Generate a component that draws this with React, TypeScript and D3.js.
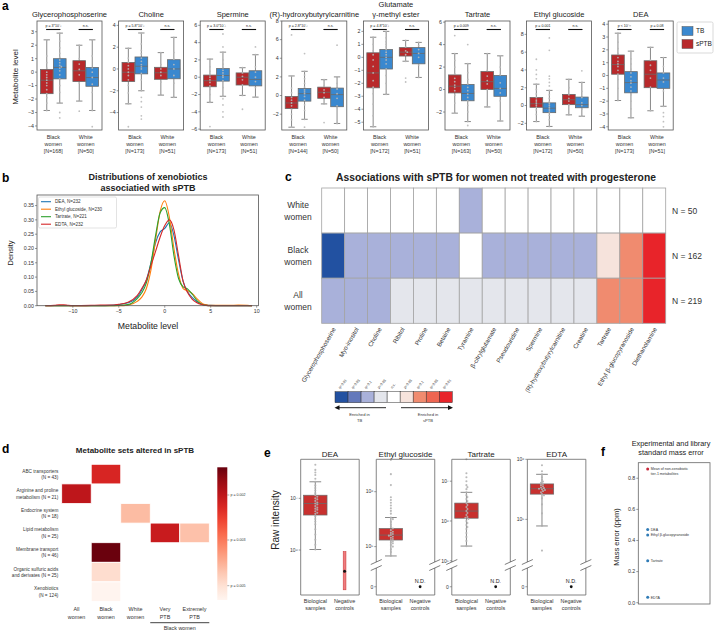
import React from 'react';
import * as d3 from 'd3';

const FONT = 'Liberation Sans, Arial, Helvetica, sans-serif';
const RED = '#b8292b';
const BLUE = '#3a88cf';

// ---------- Panel a data ----------
const aTitles = [['Glycerophosphoserine'], ['Choline'], ['Spermine'], ['(R)-hydroxybutyrylcarnitine'], ['Glutamate', 'γ-methyl ester'], ['Tartrate'], ['Ethyl glucoside'], ['DEA']];
const aDomains = [[-4.3, 3.8], [-5.6, 4.4], [-6.1, 6.5], [-3.7, 8.0], [-5.6, 2.8], [-3.6, 6.1], [-2.75, 9.5], [-4.25, 4.25]];
const aTicks = [[-4, -3, -2, -1, 0, 1, 2, 3], [-4, -2, 0, 2, 4], [-6, -4, -2, 0, 2, 4, 6], [-2, 0, 2, 4, 6, 8], [-5, -4, -3, -2, -1, 0, 1, 2], [-2, 0, 2, 4, 6], [-2, 0, 2, 4, 6, 8], [-4, -3, -2, -1, 0, 1, 2, 3, 4]];
const aBlackN = [168, 173, 173, 144, 172, 163, 172, 173];
const aWhiteN = [50, 51, 51, 50, 51, 50, 50, 51];
const aBlackP = ['p = 3*10⁻³', 'p = 5.8*10⁻³', 'p = 3.0*10⁻³', 'p = 2.8*10⁻³', 'p = 4.8*10⁻³', 'p = 0.009', 'p = 0.001', 'p < 10⁻¹¹'];
const aWhiteP = ['n.s.', 'n.s.', 'n.s.', 'n.s.', 'n.s.', 'n.s.', 'n.s.', 'p = 0.08'];
// [whisker low, q1, median, q3, whisker high] for Black sPTB, Black TB, White sPTB, White TB
const aBoxes = [
  [[-2.85, -1.6, -0.6, 0.2, 2.4], [-2.3, -0.5, 0.35, 1.0, 2.9], [-2.15, -0.7, 0.1, 0.85, 2.0], [-2.85, -1.05, -0.4, 0.35, 2.4]],
  [[-3.2, -1.15, -0.3, 0.6, 1.9], [-2.0, -0.45, 0.25, 1.1, 3.3], [-2.4, -0.95, -0.35, 0.15, 1.5], [-2.6, -0.9, 0, 0.85, 2.9]],
  [[-2.9, -1.1, -0.4, 0.25, 2.1], [-2.2, -0.45, 0.2, 1.0, 2.9], [-2.1, -0.9, 0, 0.5, 1.1], [-2.3, -1.0, -0.25, 0.75, 2.6]],
  [[-3.4, -1.4, -0.8, -0.1, 2.1], [-2.55, -0.6, 0.2, 0.75, 2.6], [-0.9, -0.3, 0.35, 0.9, 1.7], [-3.0, -1.2, 0.1, 0.8, 2.0]],
  [[-5.35, -2.35, -1.2, 0.35, 1.55], [-2.85, -0.9, 0, 0.6, 2.0], [-0.3, 0.1, 0.4, 0.75, 1.3], [-1.55, -0.5, 0.3, 0.75, 1.15]],
  [[-2.1, -0.3, 0.3, 1.3, 3.2], [-2.85, -1.0, -0.35, 0.45, 2.3], [-1.55, 0, 0.7, 1.6, 3.2], [-2.8, -0.6, 0.1, 1.25, 3.0]],
  [[-1.8, -0.2, 0.2, 0.9, 2.4], [-2.35, -0.8, -0.3, 0.3, 1.7], [-1.05, 0.1, 0.65, 1.25, 2.95], [-1.2, -0.25, 0.1, 0.95, 2.6]],
  [[-1.95, 0.1, 0.85, 1.6, 3.3], [-3.3, -1.35, -0.55, 0.3, 1.9], [-2.75, -0.95, 0.1, 1.15, 2.2], [-2.4, -1.0, -0.35, 0.2, 1.4]],
];
const aPoints = [
  [[-2.85, -2.3, -1.9, -1.6, -1.3, -1.0, -0.8, -0.6, -0.4, -0.2, 0, 0.3, 0.7, 1.2, 2.4],
   [-3.4, -3.0, -2.3, -1.5, -1.0, -0.5, -0.2, 0.1, 0.3, 0.4, 0.5, 0.7, 0.9, 1.1, 1.4, 1.8, 2.3, 2.9],
   [-2.9, -2.15, -0.8, -0.2, 0.2, 0.6, 1.0, 2.0],
   [-4.05, -2.85, -1.5, -0.9, -0.4, 0, 0.3, 1.2, 2.4]],
  [[-5.3, -3.2, -2.2, -1.5, -1.0, -0.6, -0.3, 0, 0.3, 0.6, 1.0, 1.9],
   [-4.6, -4.3, -3.5, -3.0, -2.6, -2.0, -1.0, -0.4, 0, 0.2, 0.4, 0.7, 1.0, 1.4, 1.7, 2.3, 3.3],
   [-2.4, -1.2, -0.6, -0.3, 0, 0.4, 1.5],
   [-2.6, -1.3, -0.6, 0, 0.4, 0.9, 1.5, 2.9]],
  [[-5.7, -2.9, -2.0, -1.4, -1.0, -0.6, -0.3, 0, 0.3, 0.7, 1.2, 2.1],
   [-4.6, -4.0, -3.2, -2.5, -2.2, -1.2, -0.4, 0, 0.2, 0.5, 0.8, 1.1, 1.5, 2.0, 2.9, 3.5, 5.0],
   [-3.7, -2.1, -0.9, -0.3, 0.1, 0.5, 1.1],
   [-2.3, -1.2, -0.5, 0, 0.6, 1.2, 2.6, 3.5]],
  [[-3.4, -2.6, -2.0, -1.5, -1.1, -0.8, -0.5, -0.2, 0.3, 0.8, 2.1, 6.5],
   [-3.4, -2.55, -1.6, -1.0, -0.5, -0.1, 0.2, 0.4, 0.6, 0.9, 1.3, 1.8, 2.2, 2.6, 4.5],
   [-2.9, -0.9, -0.2, 0.3, 0.6, 1.0, 1.7],
   [-3.0, -1.3, -1.1, -0.3, 0.2, 0.7, 1.3, 2.0, 5.4]],
  [[-5.35, -4.5, -3.6, -2.8, -2.3, -1.8, -1.2, -0.7, -0.2, 0.2, 0.5, 1.0, 1.55],
   [-2.85, -2.0, -1.4, -0.9, -0.5, -0.2, 0, 0.2, 0.4, 0.6, 0.8, 1.0, 1.2, 1.5, 2.0],
   [-1.9, -1.6, -0.3, 0.2, 0.4, 0.5, 0.8, 1.3],
   [-1.55, -0.6, 0, 0.3, 0.6, 0.9, 1.15]],
  [[-2.1, -1.2, -0.5, -0.1, 0.2, 0.4, 0.7, 1.0, 1.4, 2.0, 2.6, 3.2, 4.8],
   [-3.2, -2.85, -2.0, -1.4, -1.0, -0.7, -0.4, -0.1, 0.2, 0.5, 0.9, 1.5, 2.3, 4.0],
   [-1.55, 0, 0.5, 0.8, 1.2, 1.7, 3.2],
   [-2.8, -1.0, -0.3, 0.1, 0.6, 1.3, 2.0, 3.0]],
  [[-1.8, -1.0, -0.5, -0.2, 0, 0.2, 0.4, 0.6, 0.9, 1.3, 1.8, 2.4, 3.0, 3.5, 4.0, 5.2],
   [-2.35, -1.6, -1.1, -0.8, -0.6, -0.4, -0.2, 0, 0.2, 0.4, 0.8, 1.2, 1.7, 2.2, 2.6, 3.0, 3.3, 6.2, 7.6],
   [-1.05, 0.1, 0.5, 0.8, 1.2, 2.0, 2.95],
   [-1.2, -0.4, 0, 0.3, 0.9, 1.6, 2.6, 3.9]],
  [[-1.95, -1.0, -0.3, 0.1, 0.4, 0.7, 0.9, 1.1, 1.4, 1.7, 2.1, 2.6, 3.3],
   [-3.3, -2.6, -2.0, -1.5, -1.2, -0.9, -0.6, -0.4, -0.1, 0.2, 0.5, 0.9, 1.3, 1.9],
   [-2.75, -0.9, -0.2, 0.4, 0.8, 1.2, 2.2],
   [-4.0, -3.6, -3.2, -2.9, -2.4, -1.2, -0.5, -0.2, 0.2, 0.7, 1.4]],
];

// ---------- Panel b data ----------
const bX = [-13, -12, -11.5, -11, -10.5, -10, -8, -7, -6, -5, -4, -3, -2.5, -2, -1.5, -1, -0.5, 0, 0.5, 1, 1.5, 2, 2.5, 3, 3.5, 4, 4.5, 5, 6, 7, 8, 9, 9.5];
const bDEA = [0, 0, 0, 0, 0, 0, 0, 0, 0.001, 0.004, 0.01, 0.03, 0.055, 0.09, 0.15, 0.22, 0.258, 0.27, 0.29, 0.245, 0.16, 0.085, 0.048, 0.028, 0.014, 0.006, 0.002, 0.001, 0, 0, 0, 0, 0];
const bEthyl = [0, 0, 0, 0, 0, 0, 0, 0, 0, 0, 0.002, 0.015, 0.03, 0.06, 0.125, 0.23, 0.33, 0.367, 0.31, 0.2, 0.11, 0.06, 0.052, 0.042, 0.025, 0.01, 0.003, 0.001, 0.001, 0.001, 0.002, 0.001, 0];
const bTartrate = [0, 0, 0, 0, 0, 0, 0, 0, 0, 0.001, 0.004, 0.025, 0.045, 0.08, 0.15, 0.245, 0.325, 0.343, 0.285, 0.175, 0.095, 0.066, 0.058, 0.04, 0.018, 0.005, 0.001, 0, 0, 0, 0, 0, 0];
const bEDTA = [0, 0.001, 0.003, 0.003, 0.001, 0, 0.001, 0.002, 0.002, 0.005, 0.012, 0.035, 0.06, 0.09, 0.14, 0.19, 0.24, 0.28, 0.3, 0.265, 0.175, 0.085, 0.045, 0.022, 0.01, 0.004, 0.001, 0, 0, 0, 0, 0, 0];
const bSeries = [bDEA, bEthyl, bTartrate, bEDTA];
const bNames = ['DEA, N=232', 'Ethyl glucoside, N=230', 'Tartrate, N=221', 'EDTA, N=232'];
const bColors = ['#1f77b4', '#ff7f0e', '#2ca02c', '#d62728'];
const bXTicks = [-10, -5, 0, 5, 10];
const bYTicks = [0, 0.05, 0.1, 0.15, 0.2, 0.25, 0.3, 0.35];

// ---------- Panel c data ----------
const cCols = ['Glycerophosphoserine', 'Myo-inositol', 'Choline', 'Ribitol', 'Proline', 'Betaine', 'Tyramine', 'β-citrylglutamate', 'Pseudouridine', 'Spermine', '(R)-hydroxybutyrylcarnitine', 'Creatine', 'Tartrate', 'Ethyl β-glucopyranoside', 'Diethanolamine'];
const cRows = [['White', 'women'], ['Black', 'women'], ['All', 'women']];
const cN = [50, 162, 219];
const cLevels = ['q<0.01', 'q<0.05', 'q<0.1', 'p<0.05', 'n.s.', 'p<0.05', 'q<0.1', 'q<0.05', 'q<0.01'];
const cColors = ['#2251a1', '#6479bb', '#a9b1da', '#e4e6ec', '#ffffff', '#f6e3dc', '#f08b6f', '#ee6551', '#e8242a'];
const cCells = [
  [4, 4, 4, 4, 4, 4, 2, 4, 4, 4, 4, 4, 4, 4, 4],
  [0, 2, 2, 2, 2, 2, 4, 2, 2, 2, 2, 2, 5, 6, 8],
  [2, 2, 2, 3, 3, 3, 3, 3, 3, 3, 3, 3, 6, 6, 8],
];

// ---------- Panel d data ----------
const dRows = [['ABC transporters', '(N = 43)'], ['Arginine and proline', 'metabolism (N = 21)'], ['Endocrine system', '(N = 18)'], ['Lipid metabolism', '(N = 25)'], ['Membrane transport', '(N = 46)'], ['Organic sulfuric acids', 'and derivates (N = 25)'], ['Xenobiotics', '(N = 124)']];
const dCols = [['All', 'women'], ['Black', 'women'], ['White', 'women'], ['Very', 'PTB'], ['Extremely', 'PTB']];
const dP = [
  [null, 0.00225, null, null, null],
  [0.002, null, null, null, null],
  [null, null, 0.0042, null, null],
  [null, null, null, 0.0021, 0.0043],
  [null, 0.0014, null, null, null],
  [null, 0.0049, null, null, null],
  [null, 0.0056, null, null, null],
];
const dBarTicks = [0.002, 0.003, 0.005];

// ---------- Panel e data (log10 intensity) ----------
const eTitles = ['DEA', 'Ethyl glucoside', 'Tartrate', 'EDTA'];
const eLogDomains = [[5.13, 7.755], [4.72, 6.59], [4.97, 7.55], [4.29, 6.0]];
const eTicks = [[6, 7], [5, 6], [5, 6, 7], [5, 6]];
const eBoxes = [[6.01, 6.677, 6.9, 7.06, 7.32], [4.83, 5.12, 5.21, 5.33, 5.53], [5.37, 6.07, 6.25, 6.45, 6.72], [4.89, 5.42, 5.51, 5.59, 5.75]];
const eNegative: (number[] | null)[] = [[5.23, 5.59, 5.97], null, null, null];
const ePoints = [
  [6.01, 6.1, 6.2, 6.3, 6.4, 6.5, 6.55, 6.6, 6.65, 6.7, 6.72, 6.75, 6.78, 6.8, 6.82, 6.85, 6.88, 6.9, 6.92, 6.95, 6.98, 7.0, 7.03, 7.06, 7.1, 7.15, 7.2, 7.25, 7.32, 7.38, 7.45, 7.5, 7.55, 7.65],
  [4.83, 4.9, 4.95, 5.0, 5.03, 5.06, 5.08, 5.1, 5.12, 5.14, 5.16, 5.18, 5.2, 5.21, 5.23, 5.25, 5.27, 5.3, 5.33, 5.36, 5.4, 5.45, 5.5, 5.53, 5.6, 5.65, 5.7, 5.75, 5.8, 5.85, 5.9, 6.12, 6.32, 6.58],
  [5.37, 5.5, 5.6, 5.7, 5.8, 5.85, 5.9, 5.95, 6.0, 6.05, 6.08, 6.1, 6.15, 6.2, 6.25, 6.3, 6.35, 6.4, 6.45, 6.5, 6.55, 6.6, 6.65, 6.72, 6.8, 6.85, 6.9, 7.0, 7.1, 7.2, 7.55],
  [4.48, 4.89, 5.1, 5.25, 5.35, 5.4, 5.42, 5.45, 5.47, 5.49, 5.5, 5.51, 5.52, 5.53, 5.55, 5.57, 5.59, 5.61, 5.63, 5.66, 5.7, 5.75, 5.8, 5.9],
];

// ---------- Panel f data ----------
const fLabels = [['Mean of non-xenobiotic', 'tier-1 metabolites'], ['DEA'], ['Ethyl β-glucopyranoside'], ['Tartrate'], ['EDTA']];
const fValues = [0.86, 0.47, 0.435, 0.27, 0.035];
const fColors = ['#c8283a', '#2f7bb6', '#2f7bb6', '#2f7bb6', '#2f7bb6'];
const fTicks = [0, 0.2, 0.4, 0.6, 0.8];

// ---------- helpers ----------
const minus = (t: number) => (t < 0 ? '−' + Math.abs(t) : String(t));
const SUP = '⁰¹²³⁴⁵⁶⁷⁸⁹';
const sup = (n: number) => String(n).split('').map(c => SUP[+c]).join('');

function swarm(vals: number[], y: (v: number) => number, r: number, maxOff: number) {
  const sorted = vals.map(v => ({ py: y(v) })).sort((a, b) => a.py - b.py);
  const placed: { py: number; dx: number }[] = [];
  for (const p of sorted) {
    let best = 0;
    for (let k = 0; k < 60; k++) {
      const off = (k % 2 === 1 ? 1 : -1) * Math.ceil(k / 2) * r * 0.9;
      if (Math.abs(off) > maxOff) { best = (k % 2 === 1 ? 1 : -1) * maxOff * 0.9; break; }
      const ok = placed.every(q => (q.dx - off) ** 2 + (q.py - p.py) ** 2 >= (2 * r) ** 2 * 0.85);
      if (ok) { best = off; break; }
    }
    placed.push({ py: p.py, dx: best });
  }
  return placed;
}

// ---------- Panel a ----------
const A_LEFT = 37, A_STEP = 81.6, A_W = 65, A_TOP = 21, A_BOTTOM = 130;
const GRAY_EDGE = '#6a6a6a';

function PanelA({ i }: { i: number }) {
  const left = A_LEFT + i * A_STEP;
  const x = d3.scaleLinear().domain([-0.5, 1.5]).range([left, left + A_W]);
  const y = d3.scaleLinear().domain(aDomains[i]).range([A_BOTTOM, A_TOP]);
  const offs = [-0.2, 0.2, 0.8, 1.2];
  const cols = [RED, BLUE, RED, BLUE];
  const hw = x(0.195) - x(0);
  const title = aTitles[i];
  return (
    <g>
      {title.map((t, k) => (
        <text key={k} x={left + A_W / 2} y={16.6 - (title.length - 1 - k) * 9.6} textAnchor="middle" fontSize={7.5} fill="#222">{t}</text>
      ))}
      {aTicks[i].map(t => (
        <g key={t}>
          <line x1={left - 2} x2={left} y1={y(t)} y2={y(t)} stroke="#555" strokeWidth={0.6} />
          <text x={left - 3} y={y(t)} dy="0.35em" textAnchor="end" fontSize={5.3} fill="#333">{minus(t)}</text>
        </g>
      ))}
      {aBoxes[i].map((b, k) => {
        const cx = x(offs[k]);
        return (
          <g key={k}>
            <line x1={cx} x2={cx} y1={y(b[0])} y2={y(b[1])} stroke={GRAY_EDGE} strokeWidth={0.8} />
            <line x1={cx} x2={cx} y1={y(b[3])} y2={y(b[4])} stroke={GRAY_EDGE} strokeWidth={0.8} />
            <line x1={cx - hw * 0.5} x2={cx + hw * 0.5} y1={y(b[0])} y2={y(b[0])} stroke={GRAY_EDGE} strokeWidth={0.8} />
            <line x1={cx - hw * 0.5} x2={cx + hw * 0.5} y1={y(b[4])} y2={y(b[4])} stroke={GRAY_EDGE} strokeWidth={0.8} />
            <rect x={cx - hw} y={y(b[3])} width={2 * hw} height={y(b[1]) - y(b[3])} fill={cols[k]} stroke={GRAY_EDGE} strokeWidth={0.8} />
            <line x1={cx - hw} x2={cx + hw} y1={y(b[2])} y2={y(b[2])} stroke={GRAY_EDGE} strokeWidth={0.8} />
          </g>
        );
      })}
      {aPoints[i].map((pts, k) => {
        const cx = x(offs[k]);
        return swarm(pts, y, 0.9, hw).map((p, j) => (
          <circle key={k + '-' + j} cx={cx + p.dx} cy={p.py} r={0.9} fill="#b9b9b9" fillOpacity={0.9} />
        ));
      })}
      {[0, 1].map(g => (
        <g key={g}>
          <line x1={x(g - 0.22)} x2={x(g + 0.22)} y1={29.5} y2={29.5} stroke="#111" strokeWidth={1.1} />
          <text x={x(g)} y={27.3} textAnchor="middle" fontSize={3.6} fill="#222">{g === 0 ? aBlackP[i] : aWhiteP[i]}</text>
        </g>
      ))}
      <rect x={left} y={A_TOP} width={A_W} height={A_BOTTOM - A_TOP} fill="none" stroke="#555" strokeWidth={0.8} />
      {[0, 1].map(g => {
        const lines = [g === 0 ? 'Black' : 'White', 'women', `[N=${g === 0 ? aBlackN[i] : aWhiteN[i]}]`];
        return lines.map((l, k) => (
          <text key={g + '-' + k} x={x(g)} y={139 + k * 7} textAnchor="middle" fontSize={5.4} fill="#333">{l}</text>
        ));
      })}
    </g>
  );
}

function LegendA() {
  return (
    <g>
      <rect x={677} y={22} width={36} height={31} rx={1.5} fill="#fff" stroke="#cfcfcf" strokeWidth={0.8} />
      <rect x={682} y={26.5} width={11} height={9} fill={BLUE} stroke="#555" strokeWidth={0.5} />
      <text x={696} y={31} dy="0.35em" fontSize={6.5} fill="#222">TB</text>
      <rect x={682} y={39.5} width={11} height={9} fill={RED} stroke="#555" strokeWidth={0.5} />
      <text x={696} y={44} dy="0.35em" fontSize={6.5} fill="#222">sPTB</text>
    </g>
  );
}

// ---------- Panel b ----------
function PanelB() {
  const L = 37, R = 258.5, T = 195, B = 305.7;
  const x = d3.scaleLinear().domain([-13.9, 10.2]).range([L, R]);
  const y = d3.scaleLinear().domain([0, 0.387]).range([B, T]);
  const line = d3.line<number>().x((_, k) => x(bX[k])).y(d => y(d)).curve(d3.curveMonotoneX);
  return (
    <g>
      <text x={2} y={182} fontSize={12} fontWeight="bold">b</text>
      <text x={148} y={179.5} textAnchor="middle" fontSize={9} fontWeight="bold" fill="#222">Distributions of xenobiotics</text>
      <text x={148} y={191.3} textAnchor="middle" fontSize={9} fontWeight="bold" fill="#222">associatied with sPTB</text>
      {bSeries.map((s, k) => (
        <path key={k} d={line(s) || ''} fill="none" stroke={bColors[k]} strokeWidth={1.1} />
      ))}
      <rect x={L} y={T} width={R - L} height={B - T} fill="none" stroke="#555" strokeWidth={0.8} />
      {bXTicks.map(t => (
        <g key={t}>
          <line x1={x(t)} x2={x(t)} y1={B} y2={B + 2} stroke="#555" strokeWidth={0.6} />
          <text x={x(t)} y={B + 7.5} textAnchor="middle" fontSize={5.3} fill="#333">{minus(t)}</text>
        </g>
      ))}
      {bYTicks.map(t => (
        <g key={t}>
          <line x1={L - 2} x2={L} y1={y(t)} y2={y(t)} stroke="#555" strokeWidth={0.6} />
          <text x={L - 3} y={y(t)} dy="0.35em" textAnchor="end" fontSize={5.3} fill="#333">{t.toFixed(2)}</text>
        </g>
      ))}
      <text x={148} y={329} textAnchor="middle" fontSize={8.7} fill="#222">Metabolite level</text>
      <text transform="translate(10,253) rotate(-90)" textAnchor="middle" dy="0.35em" fontSize={7.5} fill="#222">Density</text>
      <rect x={38.5} y={197} width={78} height={31} rx={1.5} fill="#fff" fillOpacity={0.85} stroke="#d0d0d0" strokeWidth={0.6} />
      {bNames.map((n, k) => (
        <g key={n}>
          <line x1={41} x2={51} y1={201.7 + k * 7.5} y2={201.7 + k * 7.5} stroke={bColors[k]} strokeWidth={1.1} />
          <text x={55} y={201.7 + k * 7.5} dy="0.35em" fontSize={4.6} fill="#333">{n}</text>
        </g>
      ))}
    </g>
  );
}

// ---------- Panel c ----------
function PanelC() {
  const L = 321.7, R = 665.7, T = 188, B = 323.3;
  const x = d3.scaleBand<number>().domain(d3.range(cCols.length)).range([L, R]);
  const y = d3.scaleBand<number>().domain(d3.range(cRows.length)).range([T, B]);
  const color = d3.scaleOrdinal<number, string>().domain(d3.range(cColors.length)).range(cColors);
  const bx = d3.scaleBand<number>().domain(d3.range(cLevels.length)).range([335, 452.3]);
  return (
    <g>
      <text x={285} y={181} fontSize={12} fontWeight="bold">c</text>
      <text x={496} y={181} textAnchor="middle" fontSize={10.3} fontWeight="bold" fill="#222">Associations with sPTB for women not treated with progesterone</text>
      {cCells.map((row, r) => row.map((v, c) => (
        <rect key={r + '-' + c} x={x(c)} y={y(r)} width={x.bandwidth()} height={y.bandwidth()} fill={color(v)} stroke="#a3a3a3" strokeWidth={0.8} />
      )))}
      {cRows.map((rl, r) => (
        <g key={r}>
          {rl.map((l, k) => (
            <text key={k} x={298} y={(y(r) || 0) + y.bandwidth() / 2 + (k === 0 ? -5.5 : 6)} dy="0.35em" textAnchor="middle" fontSize={8.5} fill="#333">{l}</text>
          ))}
          <text x={672} y={(y(r) || 0) + y.bandwidth() / 2} dy="0.35em" fontSize={8.5} fill="#333">N = {cN[r]}</text>
        </g>
      ))}
      {cCols.map((n, c) => {
        const cx = (x(c) || 0) + x.bandwidth() / 2 + 1;
        return (
          <text key={n} transform={`translate(${cx},328) rotate(-60)`} textAnchor="end" dy="0.35em" fontSize={6.2} fill="#333">{n}</text>
        );
      })}
      {cLevels.map((lv, k) => (
        <g key={k}>
          <rect x={bx(k)} y={391.7} width={bx.bandwidth()} height={11} fill={cColors[k]} stroke="#333" strokeWidth={0.5} />
          <text transform={`translate(${(bx(k) || 0) + bx.bandwidth() / 2 - 1.5},389) rotate(-50)`} fontSize={3.6} fill="#333">{lv}</text>
        </g>
      ))}
      <line x1={337} x2={386} y1={407.7} y2={407.7} stroke="#111" strokeWidth={0.9} />
      <polygon points="334.5,407.7 339.5,405.3 339.5,410.1" fill="#111" />
      <line x1={401} x2={450} y1={407.7} y2={407.7} stroke="#111" strokeWidth={0.9} />
      <polygon points="453,407.7 448,405.3 448,410.1" fill="#111" />
      <text x={359.5} y={415.5} textAnchor="middle" fontSize={4.1} fill="#333">Enriched in</text>
      <text x={359.5} y={422} textAnchor="middle" fontSize={4.1} fill="#333">TB</text>
      <text x={428} y={415.5} textAnchor="middle" fontSize={4.1} fill="#333">Enriched in</text>
      <text x={428} y={422} textAnchor="middle" fontSize={4.1} fill="#333">sPTB</text>
    </g>
  );
}

// ---------- Panel d ----------
function PanelD() {
  const L = 61.7, R = 209.3, T = 464.3, B = 601.5;
  const x = d3.scaleBand<number>().domain(d3.range(dCols.length)).range([L, R]);
  const y = d3.scaleBand<number>().domain(d3.range(dRows.length)).range([T, B]);
  const barT = 467.3, barB = 600;
  const pToY = d3.scaleLinear().domain(dBarTicks).range([495, 540, 585.7]);
  const colorOf = (p: number) => d3.interpolateReds(Math.max(0, Math.min(1, 1 - (pToY(p) - barT) / (barB - barT))));
  const stops = d3.range(0, 1.0001, 0.1);
  return (
    <g>
      <defs>
        <linearGradient id="dgrad" x1="0" y1="0" x2="0" y2="1">
          {stops.map(s => <stop key={s} offset={s} stopColor={d3.interpolateReds(1 - s)} />)}
        </linearGradient>
      </defs>
      <text x={2} y={453} fontSize={12} fontWeight="bold">d</text>
      <text x={135} y={453} textAnchor="middle" fontSize={8} fontWeight="bold" fill="#222">Metabolite sets altered in sPTB</text>
      {dP.map((row, r) => row.map((p, c) => p === null ? null : (
        <rect key={r + '-' + c} x={x(c)} y={y(r)} width={x.bandwidth()} height={y.bandwidth()} fill={colorOf(p)} stroke="#fff" strokeWidth={0.8} />
      )))}
      {dRows.map((rl, r) => rl.map((l, k) => (
        <text key={r + '-' + k} x={58.3} y={(y(r) || 0) + y.bandwidth() / 2 + (k === 0 ? -3.2 : 3.2)} dy="0.35em" textAnchor="end" fontSize={4.7} fill="#333">{l}</text>
      )))}
      {dCols.map((cl, c) => cl.map((l, k) => (
        <text key={c + '-' + k} x={(x(c) || 0) + x.bandwidth() / 2} y={611.3 + k * 7.3} textAnchor="middle" fontSize={5.4} fill="#333">{l}</text>
      )))}
      <line x1={x(3)} x2={R} y1={622.7} y2={622.7} stroke="#111" strokeWidth={0.8} />
      <text x={((x(3) || 0) + R) / 2} y={629.6} textAnchor="middle" fontSize={5.4} fill="#333">Black women</text>
      <rect x={217.3} y={barT} width={10} height={barB - barT} fill="url(#dgrad)" />
      {dBarTicks.map(t => (
        <g key={t}>
          <line x1={227.3} x2={229.3} y1={pToY(t)} y2={pToY(t)} stroke="#555" strokeWidth={0.5} />
          <text x={230.5} y={pToY(t)} dy="0.35em" fontSize={3.6} fill="#333">p = {t.toFixed(3)}</text>
        </g>
      ))}
    </g>
  );
}

// ---------- Panel e ----------
const E_LEFT = 300.7, E_STEP = 75.55, E_W = 58.5, E_TOP = 459.3, E_BOTTOM = 595, E_BREAK = 562, E_RED = '#c8312f';

function PanelE({ i }: { i: number }) {
  const left = E_LEFT + i * E_STEP;
  const right = left + E_W;
  const x = d3.scaleLinear().domain([-0.5, 1.5]).range([left, right]);
  const broken = eNegative[i] === null;
  const y = d3.scaleLog().domain([10 ** eLogDomains[i][0], 10 ** eLogDomains[i][1]]).range([broken ? E_BREAK : E_BOTTOM, E_TOP]);
  const yLow = d3.scaleLinear().domain([-0.44, 1]).range([E_BOTTOM, E_BREAK + 6]);
  const b = eBoxes[i];
  const cx = x(0);
  const hw = x(0.4) - x(0);
  const ly = (v: number) => y(10 ** v);
  const neg = eNegative[i];
  const pts = swarm(ePoints[i], ly, 1.1, hw * 1.05);
  const spine = '#666';
  return (
    <g>
      <text x={(left + right) / 2} y={457} textAnchor="middle" fontSize={8} fill="#222">{eTitles[i]}</text>
      <line x1={cx} x2={cx} y1={ly(b[0])} y2={ly(b[1])} stroke={GRAY_EDGE} strokeWidth={0.8} />
      <line x1={cx} x2={cx} y1={ly(b[3])} y2={ly(b[4])} stroke={GRAY_EDGE} strokeWidth={0.8} />
      <line x1={cx - hw * 0.5} x2={cx + hw * 0.5} y1={ly(b[0])} y2={ly(b[0])} stroke={GRAY_EDGE} strokeWidth={0.8} />
      <line x1={cx - hw * 0.5} x2={cx + hw * 0.5} y1={ly(b[4])} y2={ly(b[4])} stroke={GRAY_EDGE} strokeWidth={0.8} />
      <rect x={cx - hw} y={ly(b[3])} width={2 * hw} height={ly(b[1]) - ly(b[3])} fill={E_RED} stroke={GRAY_EDGE} strokeWidth={0.7} />
      <line x1={cx - hw} x2={cx + hw} y1={ly(b[2])} y2={ly(b[2])} stroke={GRAY_EDGE} strokeWidth={0.8} />
      {pts.map((p, j) => <circle key={j} cx={cx + p.dx} cy={p.py} r={1.05} fill="#b3b3b3" fillOpacity={0.9} />)}
      {neg && (
        <g>
          <rect x={x(1) - 1.4} y={ly(neg[2])} width={2.8} height={ly(neg[0]) - ly(neg[2])} fill="#ee7d7f" stroke={E_RED} strokeWidth={0.5} />
          <circle cx={x(1)} cy={ly(neg[1])} r={1.5} fill="#111" />
        </g>
      )}
      {!neg && (
        <g>
          <circle cx={x(1)} cy={yLow(0)} r={1.4} fill="#111" />
          <text x={x(1)} y={yLow(0) - 3.5} textAnchor="middle" fontSize={5.4} fill="#222">N.D.</text>
          <line x1={left - 2} x2={left} y1={yLow(0)} y2={yLow(0)} stroke="#555" strokeWidth={0.6} />
          <text x={left - 3} y={yLow(0)} dy="0.35em" textAnchor="end" fontSize={5} fill="#333">0</text>
        </g>
      )}
      {eTicks[i].map(t => (
        <g key={t}>
          <line x1={left - 2} x2={left} y1={ly(t)} y2={ly(t)} stroke="#555" strokeWidth={0.6} />
          <text x={left - 3} y={ly(t)} dy="0.35em" textAnchor="end" fontSize={5} fill="#333">10{sup(t)}</text>
        </g>
      ))}
      <line x1={left} x2={right} y1={E_TOP} y2={E_TOP} stroke={spine} strokeWidth={0.8} />
      <line x1={left} x2={right} y1={E_BOTTOM} y2={E_BOTTOM} stroke={spine} strokeWidth={0.8} />
      {broken ? (
        <g>
          {[left, right].map(sx => (
            <g key={sx}>
              <line x1={sx} x2={sx} y1={E_TOP} y2={E_BREAK} stroke={spine} strokeWidth={0.8} />
              <line x1={sx} x2={sx} y1={E_BREAK + 6} y2={E_BOTTOM} stroke={spine} strokeWidth={0.8} />
              <line x1={sx - 5.5} x2={sx + 5.5} y1={E_BREAK + 2.5} y2={E_BREAK - 2.5} stroke="#444" strokeWidth={0.7} />
              <line x1={sx - 5.5} x2={sx + 5.5} y1={E_BREAK + 8.5} y2={E_BREAK + 3.5} stroke="#444" strokeWidth={0.7} />
            </g>
          ))}
        </g>
      ) : (
        <g>
          <line x1={left} x2={left} y1={E_TOP} y2={E_BOTTOM} stroke={spine} strokeWidth={0.8} />
          <line x1={right} x2={right} y1={E_TOP} y2={E_BOTTOM} stroke={spine} strokeWidth={0.8} />
        </g>
      )}
      {[['Biological', 'samples'], ['Negative', 'controls']].map((ls, g) => ls.map((l, k) => (
        <text key={g + '-' + k} x={x(g)} y={602.6 + k * 7} textAnchor="middle" fontSize={5.4} fill="#333">{l}</text>
      )))}
    </g>
  );
}

// ---------- Panel f ----------
function PanelF() {
  const L = 638.3, R = 710, T = 462.7, B = 604;
  const y = d3.scaleLinear().domain([-0.0084, 0.9]).range([B, T]);
  const px = 647.7;
  return (
    <g>
      <text x={601} y={456} fontSize={12} fontWeight="bold">f</text>
      <text x={671} y={445.5} textAnchor="middle" fontSize={7.3} fill="#222">Experimental and library</text>
      <text x={671} y={455} textAnchor="middle" fontSize={7.3} fill="#222">standard mass error</text>
      <rect x={L} y={T} width={R - L} height={B - T} fill="none" stroke="#666" strokeWidth={0.8} />
      {fTicks.map(t => (
        <g key={t}>
          <line x1={L - 2} x2={L} y1={y(t)} y2={y(t)} stroke="#555" strokeWidth={0.6} />
          <text x={L - 3} y={y(t)} dy="0.35em" textAnchor="end" fontSize={5.3} fill="#333">{t.toFixed(1)}</text>
        </g>
      ))}
      <text transform="translate(616,537) rotate(-90)" textAnchor="middle" dy="0.35em" fontSize={7.5} fill="#222">Mass error (ppm)</text>
      {fValues.map((v, k) => (
        <g key={k}>
          <circle cx={px} cy={y(v)} r={1.5} fill={fColors[k]} />
          {fLabels[k].map((l, j) => (
            <text key={j} x={px + 3} y={y(v) + j * 4.8} dy="0.35em" fontSize={3.6} fill="#333">{l}</text>
          ))}
        </g>
      ))}
    </g>
  );
}

export default function App() {
  return (
    <svg width={720} height={630} viewBox="0 0 720 630" style={{ position: 'absolute', left: 0, top: 0, background: '#fff' }} fontFamily={FONT}>
      <rect width={720} height={630} fill="#fff" />
      <text x={2} y={10} fontSize={12} fontWeight="bold">a</text>
      <text transform="translate(15,77) rotate(-90)" textAnchor="middle" dy="0.35em" fontSize={8} fill="#222">Metabolite level</text>
      {aTitles.map((_, i) => <PanelA key={i} i={i} />)}
      <LegendA />
      <PanelB />
      <PanelC />
      <PanelD />
      {eTitles.map((_, i) => <PanelE key={i} i={i} />)}
      <text x={264} y={457} fontSize={12} fontWeight="bold">e</text>
      <text transform="translate(275.5,520) rotate(-90)" textAnchor="middle" dy="0.35em" fontSize={10} fill="#222">Raw intensity</text>
      <PanelF />
    </svg>
  );
}
